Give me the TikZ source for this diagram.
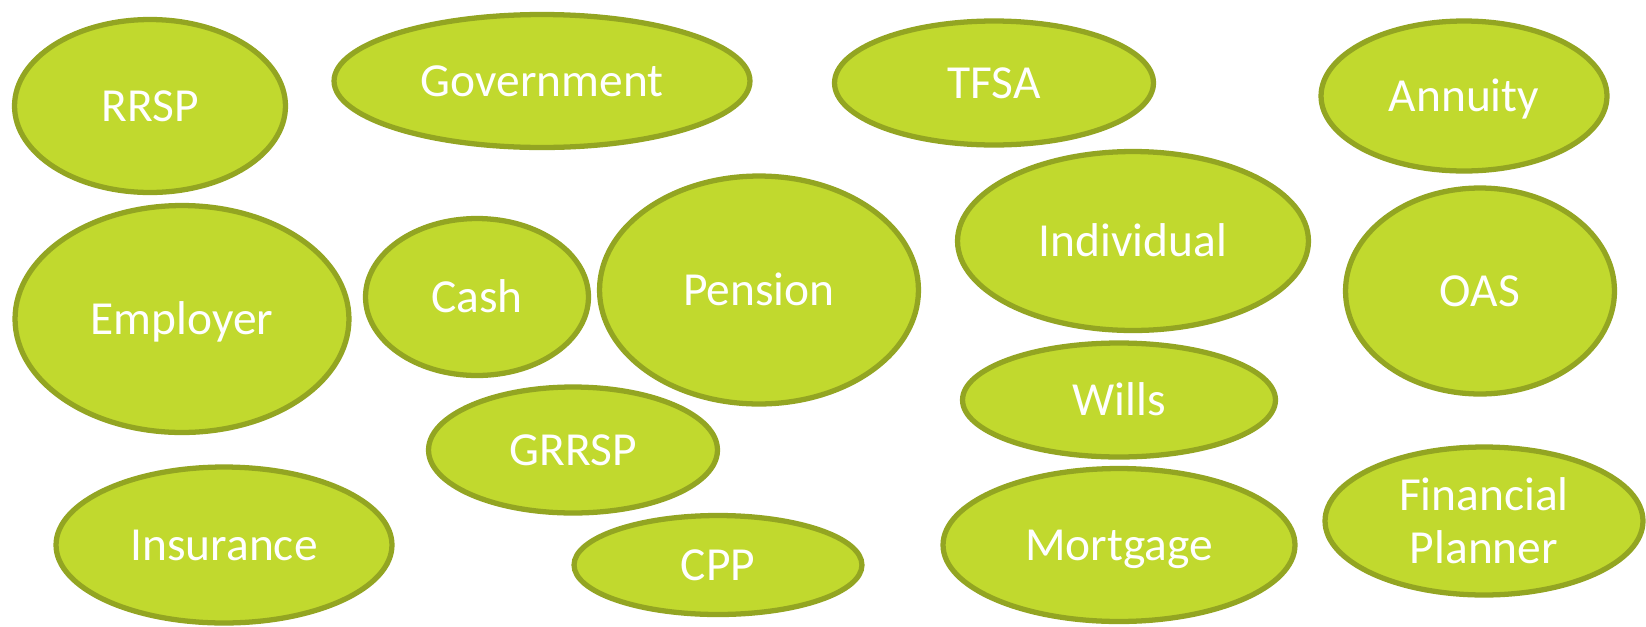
\documentclass[tikz,border=0pt]{standalone}
\usepackage{fontspec}
\setmainfont{Carlito}
\usetikzlibrary{shapes.geometric}

\definecolor{bubblefill}{RGB}{193,217,46}
\definecolor{bubbleline}{RGB}{147,165,34}

\begin{document}
\begin{tikzpicture}[x=0.02cm,y=-0.02cm]
    \tikzset{
        % one green ellipse per word
        bubble/.style={ellipse, draw=bubbleline, fill=bubblefill, line width=3pt,
            text=white, inner sep=0pt, align=center,
            font=\fontsize{27}{30}\selectfont},
        % same line box for every single word (27pt type)
        word/.style={bubble, text height=24pt, text depth=6.75pt}
    }
    \useasboundingbox (0,0) rectangle (1646,626);
    \node[word, minimum width=5.42cm, minimum height=3.46cm] (rrsp) at (150,106) {RRSP};
    \node[word, minimum width=8.32cm, minimum height=2.66cm] (government) at (542,81) {Government};
    \node[word, minimum width=6.38cm, minimum height=2.48cm] (tfsa) at (994,83) {TFSA};
    \node[word, minimum width=5.72cm, minimum height=3.00cm] (annuity) at (1464,96) {Annuity};
    \node[word, minimum width=6.68cm, minimum height=4.54cm] (employer) at (182,319) {Employer};
    \node[word, minimum width=4.46cm, minimum height=3.14cm] (cash) at (477,297) {Cash};
    \node[word, minimum width=6.38cm, minimum height=4.56cm] (pension) at (759,290) {Pension};
    \node[word, minimum width=7.02cm, minimum height=3.58cm] (individual) at (1133,241) {Individual};
    \node[word, minimum width=5.38cm, minimum height=4.12cm] (oas) at (1480,291) {OAS};
    \node[word, minimum width=6.26cm, minimum height=2.28cm] (wills) at (1119,400) {Wills};
    \node[word, minimum width=5.78cm, minimum height=2.52cm] (grrsp) at (573,450) {GRRSP};
    \node[word, minimum width=6.72cm, minimum height=3.12cm] (insurance) at (224,545) {Insurance};
    \node[word, minimum width=5.76cm, minimum height=1.98cm] (cpp) at (718,565) {CPP};
    \node[word, minimum width=7.04cm, minimum height=3.06cm] (mortgage) at (1119,545) {Mortgage};
    \node[bubble, minimum width=6.36cm, minimum height=2.96cm] (planner) at (1484,521) {Financial\\Planner};
\end{tikzpicture}
\end{document}
